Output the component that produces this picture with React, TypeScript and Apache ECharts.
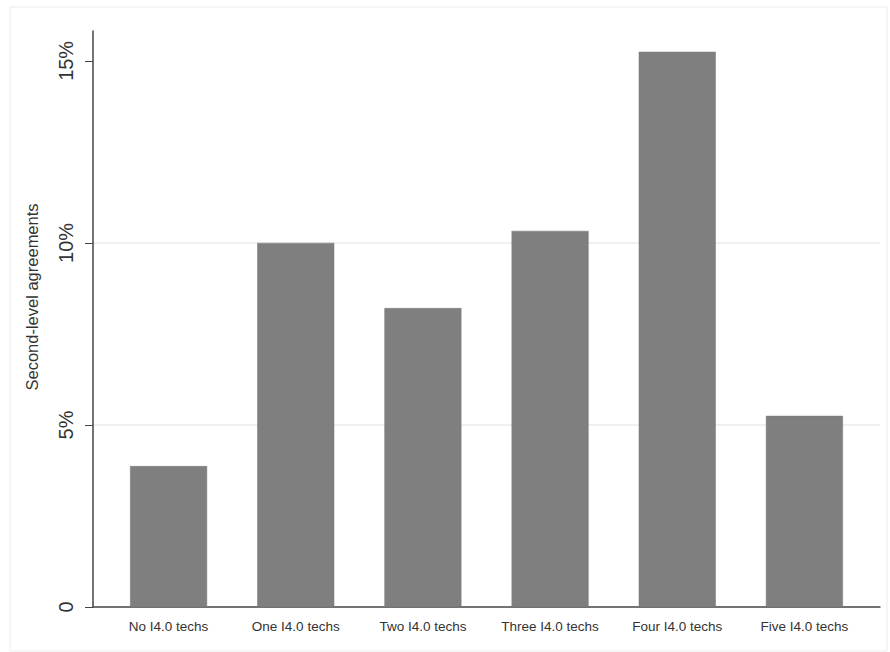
import React, { useEffect, useRef } from "react";
import * as echarts from "echarts";

const categories = [
  "No I4.0 techs",
  "One I4.0 techs",
  "Two I4.0 techs",
  "Three I4.0 techs",
  "Four I4.0 techs",
  "Five I4.0 techs",
];
const values = [3.87, 10.0, 8.21, 10.33, 15.25, 5.25];
const yTicks = [0, 5, 10, 15];
const yMax = 15.82;
const yTitle = "Second-level agreements";

export default function App() {
  const ref = useRef<HTMLDivElement>(null);
  useEffect(() => {
    document.body.style.margin = "0";
    const chart = echarts.init(ref.current!, undefined, { renderer: "svg" });
    const font = "Arial, 'Liberation Sans', sans-serif";
    chart.setOption({
      animation: false,
      backgroundColor: "#ffffff",
      textStyle: { fontFamily: font },
      grid: [
        { left: 93, top: 31, width: 787, height: 576 },
        { left: 105, top: 31, width: 763, height: 576 },
      ],
      xAxis: [
        {
          type: "value",
          gridIndex: 0,
          min: 0,
          max: 1,
          axisLine: { show: true, lineStyle: { color: "#444", width: 1.5 } },
          axisTick: { show: false },
          axisLabel: { show: false },
          splitLine: { show: false },
        },
        {
          type: "category",
          gridIndex: 1,
          data: categories,
          axisLine: { show: false },
          axisTick: { show: false },
          axisLabel: {
            color: "#333",
            fontSize: 13.5,
            margin: 12,
            fontFamily: font,
            interval: 0,
          },
        },
      ],
      yAxis: [
        {
          type: "value",
          gridIndex: 0,
          min: 0,
          max: yMax,
          axisLine: { show: true, lineStyle: { color: "#444", width: 1.5 } },
          axisTick: {
            show: true,
            length: 8,
            customValues: yTicks,
            lineStyle: { color: "#444", width: 1 },
          },
          axisLabel: {
            customValues: yTicks,
            rotate: 90,
            color: "#333",
            fontSize: 20,
            margin: 17,
            fontFamily: font,
            formatter: (v: number) => (v === 0 ? "0" : v + "%"),
          },
          splitLine: {
            show: true,
            showMinLine: false,
            showMaxLine: false,
            lineStyle: { color: "#e9ecec", width: 1.5 },
          },
        },
        {
          type: "value",
          gridIndex: 1,
          min: 0,
          max: yMax,
          show: false,
          splitLine: { show: false },
        },
      ],
      graphic: [
        {
          type: "rect",
          shape: { x: 10, y: 7, width: 877, height: 644 },
          style: { fill: "none", stroke: "#ececec", lineWidth: 1 },
          silent: true,
        },
        {
          type: "text",
          x: 32,
          y: 297,
          rotation: Math.PI / 2,
          style: {
            text: yTitle,
            fill: "#333",
            fontSize: 16.5,
            fontFamily: font,
            align: "center",
            verticalAlign: "middle",
          },
        },
      ],
      series: [
        {
          type: "bar",
          xAxisIndex: 1,
          yAxisIndex: 1,
          data: values,
          barWidth: 77,
          itemStyle: { color: "#7f7f7f", borderColor: "#777", borderWidth: 0.5 },
        },
      ],
    });
    return () => chart.dispose();
  }, []);
  return <div ref={ref} style={{ width: 890, height: 652 }} />;
}
